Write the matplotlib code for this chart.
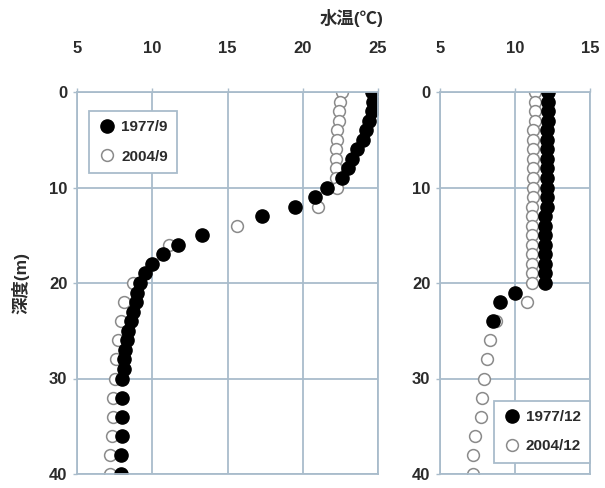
import matplotlib
matplotlib.use("Agg")
import matplotlib.pyplot as plt

plt.rcParams['font.family'] = ['Liberation Sans', 'Noto Sans CJK JP', 'DejaVu Sans']

# 9月の水温プロファイル
depth_sep_1977 = [0, 1, 2, 3, 4, 5, 6, 7, 8, 9, 10, 11, 12, 13, 15, 16, 17, 18, 19,
                  20, 21, 22, 23, 24, 25, 26, 27, 28, 29, 30, 32, 34, 36, 38, 40]
temp_sep_1977 = [24.6, 24.7, 24.6, 24.4, 24.2, 24.0, 23.6, 23.3, 23.0, 22.6, 21.6,
                 20.8, 19.5, 17.3, 13.3, 11.7, 10.7, 10.0, 9.5,
                 9.2, 9.0, 8.9, 8.7, 8.6, 8.4, 8.3, 8.2, 8.1, 8.1, 8.0, 8.0, 8.0, 8.0, 7.9, 7.9]
depth_sep_2004 = [0, 1, 2, 3, 4, 5, 6, 7, 8, 9, 10, 12, 14, 16, 18, 20,
                  22, 24, 26, 28, 30, 32, 34, 36, 38, 40]
temp_sep_2004 = [22.6, 22.5, 22.4, 22.4, 22.3, 22.3, 22.2, 22.2, 22.2, 22.2, 22.3, 21.0,
                 15.6, 11.1, 10.0, 8.7, 8.1, 7.9, 7.7, 7.6, 7.5, 7.4, 7.4, 7.3, 7.2, 7.2]

# 12月の水温プロファイル
depth_dec_1977 = [0, 1, 2, 3, 4, 5, 6, 7, 8, 9, 10, 11, 12, 13, 14, 15, 16, 17, 18, 19, 20,
                  21, 22, 24]
temp_dec_1977 = [12.2, 12.2, 12.2, 12.2, 12.1, 12.1, 12.1, 12.1, 12.1, 12.1, 12.1, 12.1,
                 12.1, 12.0, 12.0, 12.0, 12.0, 12.0, 12.0, 12.0, 12.0, 10.0, 9.0, 8.5]
depth_dec_2004 = [0, 1, 2, 3, 4, 5, 6, 7, 8, 9, 10, 11, 12, 13, 14, 15, 16, 17, 18, 19, 20,
                  22, 24, 26, 28, 30, 32, 34, 36, 38, 40]
temp_dec_2004 = [11.3, 11.3, 11.3, 11.3, 11.2, 11.2, 11.2, 11.2, 11.2, 11.2, 11.2, 11.2,
                 11.1, 11.1, 11.1, 11.1, 11.1, 11.1, 11.1, 11.1, 11.1,
                 10.8, 8.7, 8.3, 8.1, 7.9, 7.8, 7.7, 7.3, 7.2, 7.2]

x_ticks_sep = [5, 10, 15, 20, 25]
x_ticks_dec = [5, 10, 15]
y_ticks = [0, 10, 20, 30, 40]

grid_color = '#a9bccb'
text_color = '#2b2b2b'

W, H = 605, 488
fig = plt.figure(figsize=(W / 100, H / 100), dpi=100)
ax1 = fig.add_axes([77 / W, 1 - 474 / H, 301 / W, 382 / H])
ax2 = fig.add_axes([440 / W, 1 - 474 / H, 150 / W, 382 / H])


def style_axes(ax, xlim, xticks):
    ax.set_xlim(*xlim)
    ax.set_ylim(40, 0)
    ax.set_xticks(xticks)
    ax.set_yticks(y_ticks)
    ax.xaxis.tick_top()
    ax.grid(True, color=grid_color, linewidth=1.3)
    ax.set_axisbelow(True)
    for s in ax.spines.values():
        s.set_color(grid_color)
        s.set_linewidth(1.3)
    ax.tick_params(axis='both', colors=grid_color, length=3, width=1,
                   labelcolor=text_color, labelsize=12)
    ax.tick_params(axis='x', pad=23)
    ax.tick_params(axis='y', pad=4)
    for lab in ax.get_xticklabels() + ax.get_yticklabels():
        lab.set_fontweight('bold')


filled = dict(marker='o', linestyle='none', markersize=9.5,
              markerfacecolor='black', markeredgecolor='black')
hollow = dict(marker='o', linestyle='none', markersize=8.5,
              markerfacecolor='white', markeredgecolor='#8a8a8a', markeredgewidth=1.1)

ax1.plot(temp_sep_2004, depth_sep_2004, label='2004/9', **hollow)
ax1.plot(temp_sep_1977, depth_sep_1977, label='1977/9', **filled)
ax2.plot(temp_dec_2004, depth_dec_2004, label='2004/12', **hollow)
ax2.plot(temp_dec_1977, depth_dec_1977, label='1977/12', **filled)

style_axes(ax1, (5, 25), x_ticks_sep)
style_axes(ax2, (5, 15), x_ticks_dec)

for ax, loc, anchor in [(ax1, 'upper left', (0.04, 0.95)),
                        (ax2, 'lower right', (1.0, 0.03))]:
    h, l = ax.get_legend_handles_labels()
    leg = ax.legend(h[::-1], l[::-1], loc=loc, bbox_to_anchor=anchor,
                    fancybox=False, framealpha=1, edgecolor=grid_color,
                    fontsize=11, handletextpad=0.3, handlelength=1.2,
                    borderpad=0.6, labelspacing=1.0, borderaxespad=0)
    leg.get_frame().set_linewidth(1.3)
    for t in leg.get_texts():
        t.set_color(text_color)
        t.set_fontweight('bold')

fig.text(352 / W, 1 - 18 / H, '水温(℃)', ha='center', va='center',
         fontsize=12.5, fontweight='bold', color=text_color)
fig.text(20 / W, 1 - 283 / H, '深度(m)', ha='center', va='center', rotation=90,
         fontsize=12.5, fontweight='bold', color=text_color)

fig.savefig('out.png', dpi=100)
